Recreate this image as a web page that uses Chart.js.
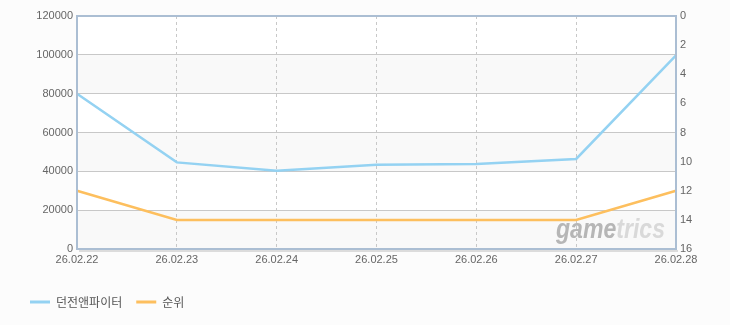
<!DOCTYPE html>
<html>
<head>
<meta charset="utf-8">
<script src="https://cdn.jsdelivr.net/npm/chart.js@4/dist/chart.umd.min.js"></script>
<style>
  html, body { margin: 0; padding: 0; background: #fcfcfc; }
  #wrap { width: 730px; height: 325px; }
</style>
</head>
<body>
<div id="wrap"><canvas id="rankChart" width="730" height="325"></canvas></div>
<script>
// ====== data ======
const dates    = ["26.02.22", "26.02.23", "26.02.24", "26.02.25", "26.02.26", "26.02.27", "26.02.28"];
const players  = [80000, 44600, 40300, 43400, 43800, 46400, 99700];   // 던전앤파이터 (left)
const ranks    = [12, 14, 14, 14, 14, 14, 12];                         // 순위 (right, reversed)
const leftTicks  = { min: 0, max: 120000, step: 20000 };
const rightTicks = { min: 0, max: 16, step: 2 };

const BLUE   = "#94d2f2";
const ORANGE = "#fdbf5e";
const TXT    = "#666666";
const NUMFONT = { family: "'Liberation Sans', Arial, sans-serif", size: 11 };

// background + striped plot area + frame
const framePlugin = {
  id: "frame",
  beforeDraw(chart) {
    const { ctx, chartArea: a } = chart;
    ctx.save();
    ctx.fillStyle = "#fcfcfc";
    ctx.fillRect(0, 0, chart.width, chart.height);
    const y = chart.scales.y;
    for (let v = leftTicks.max, i = 0; v > leftTicks.min; v -= leftTicks.step, i++) {
      const top = y.getPixelForValue(v), bot = y.getPixelForValue(v - leftTicks.step);
      ctx.fillStyle = (i % 2 === 0) ? "#ffffff" : "#f9f9f9";
      ctx.fillRect(a.left, top, a.right - a.left, bot - top);
    }
    ctx.restore();
  },
  beforeDatasetsDraw(chart) {
    // watermark
    const { ctx, chartArea: a } = chart;
    ctx.save();
    ctx.font = "italic bold 28px 'Liberation Sans', Arial, sans-serif";
    ctx.textBaseline = "alphabetic";
    const w1 = ctx.measureText("game").width;
    const w2 = ctx.measureText("trics").width;
    const sx = 109 / (w1 + w2);
    ctx.translate(a.right - 11 - 109, a.bottom - 11);
    ctx.scale(sx, 1);
    ctx.fillStyle = "#b6b6b6";
    ctx.fillText("game", 0, 0);
    ctx.fillStyle = "#d9d9d9";
    ctx.fillText("trics", w1, 0);
    ctx.restore();
  },
  afterDraw(chart) {
    const { ctx, chartArea: a } = chart;
    ctx.save();
    ctx.strokeStyle = "#dcdcdc";
    ctx.lineWidth = 2;
    ctx.beginPath();
    ctx.moveTo(a.left + 2, a.bottom + 2);
    ctx.lineTo(a.right + 2, a.bottom + 2);
    ctx.stroke();
    ctx.strokeStyle = "#abbed3";
    ctx.lineWidth = 2;
    ctx.strokeRect(a.left, a.top, a.right - a.left, a.bottom - a.top);
    ctx.restore();
  }
};

new Chart(document.getElementById("rankChart"), {
  type: "line",
  data: {
    labels: dates,
    datasets: [
      { label: "던전앤파이터", data: players, yAxisID: "y",
        borderColor: BLUE, backgroundColor: BLUE, borderWidth: 2.5,
        pointRadius: 0, tension: 0, fill: false },
      { label: "순위", data: ranks, yAxisID: "y1",
        borderColor: ORANGE, backgroundColor: ORANGE, borderWidth: 2.5,
        pointRadius: 0, tension: 0, fill: false },
    ]
  },
  options: {
    responsive: false, animation: false,
    layout: { padding: { top: 16, left: 16, right: 0, bottom: 7 } },
    plugins: {
      tooltip: { enabled: false },
      legend: {
        position: "bottom", align: "start",
        labels: {
          boxWidth: 20, boxHeight: 3, padding: 14, color: "#555",
          font: { family: "'Noto Sans CJK KR', sans-serif", size: 12 },
          generateLabels(chart) {
            return chart.data.datasets.map((ds, i) => ({
              text: ds.label, fillStyle: ds.borderColor, strokeStyle: ds.borderColor,
              lineWidth: 0, hidden: false, datasetIndex: i, fontColor: "#555"
            }));
          }
        }
      }
    },
    scales: {
      x: {
        offset: false,
        grid: { color: "#c8c8c8", drawTicks: false },
        border: { display: false, dash: [3, 3] },
        ticks: { color: TXT, font: NUMFONT, padding: 4, maxRotation: 0, autoSkip: false },
        afterFit(s) { s.height = 33; }
      },
      y: {
        position: "left",
        min: leftTicks.min, max: leftTicks.max,
        grid: { color: "#c8c8c8", drawTicks: false },
        border: { display: false },
        ticks: { stepSize: leftTicks.step, color: TXT, font: NUMFONT, padding: 4,
                 callback: (v) => String(v) },
        afterFit(s) { s.width = 61; }
      },
      y1: {
        position: "right", reverse: true,
        min: rightTicks.min, max: rightTicks.max,
        grid: { display: false, drawTicks: false },
        border: { display: false },
        ticks: { stepSize: rightTicks.step, color: TXT, font: NUMFONT, padding: 4,
                 callback: (v) => String(v) },
        afterFit(s) { s.width = 54; }
      }
    }
  },
  plugins: [framePlugin]
});
</script>
</body>
</html>
